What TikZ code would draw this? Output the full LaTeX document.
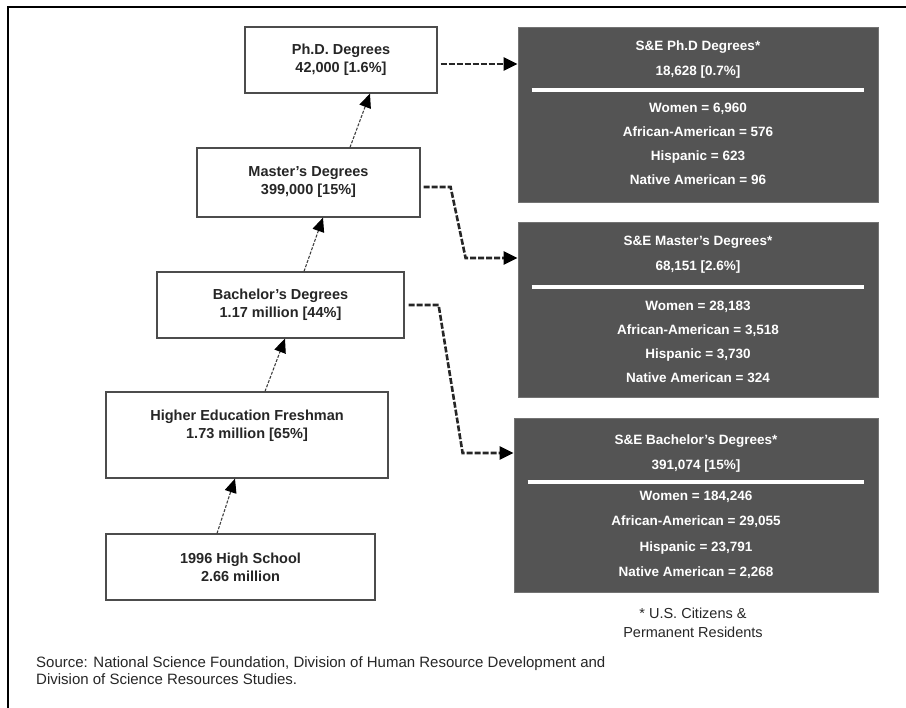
\documentclass[tikz,border=0pt]{standalone}
\usepackage{fontspec}
\setmainfont{Liberation Sans}
\usetikzlibrary{arrows.meta,calc,positioning}

\begin{document}
\begin{tikzpicture}[x=1pt,y=-1pt,
  lbox/.style={draw=black!70,line width=1.2pt,fill=white,align=center,inner sep=0pt,
    font=\bfseries\fontsize{14.5}{18}\selectfont,text=black!85},
  ltxt/.style={align=center,inner sep=0pt,font=\bfseries\fontsize{14.5}{18}\selectfont,text=black!85},
  sebox/.style={fill=black!67,draw=black!55,line width=0.8pt,inner sep=0pt},
  setxt/.style={align=center,inner sep=0pt,text=white,font=\bfseries\fontsize{13.5}{24}\selectfont},
  sehead/.style={setxt,font=\bfseries\fontsize{13.5}{25}\selectfont},
  wline/.style={draw=white,line width=4pt},
  uparrow/.style={draw=black!75,line width=1.1pt,dash pattern=on 3pt off 1.5pt,
    -{Triangle[length=14pt,width=12pt,color=black]}},
  sidearrow/.style={draw=black!85,line width=2.6pt,dash pattern=on 6pt off 2pt,
    -{Triangle[length=14pt,width=13pt,color=black]}},
  note/.style={inner sep=0pt,font=\fontsize{15}{17}\selectfont,text=black!85}]
 \useasboundingbox (0,0) rectangle (906,708);
 % frame
 \draw[line width=2pt] (8,708) -- (8,7) -- (906,7);

 % pipeline
 \node[lbox,minimum width=192,minimum height=66] (phd) at (341,60) {Ph.D. Degrees\\42,000 [1.6\%]};
 \node[lbox,minimum width=223,minimum height=69] (ms) at (308.5,182.5) {Master's Degrees\\399,000 [15\%]};
 \node[lbox,minimum width=247,minimum height=66] (ba) at (280.5,305) {Bachelor's Degrees\\1.17 million [44\%]};
 \node[lbox,minimum width=282,minimum height=86] (fr) at (247,435) {};
 \node[ltxt] (frt) at (247,426) {Higher Education Freshman\\1.73 million [65\%]};
 \node[lbox,minimum width=269,minimum height=66] (hs) at (240.5,567) {1996 High School\\2.66 million};

 \draw[uparrow] ([xshift=-23.5pt]hs.north) -- ([xshift=-12pt]fr.south);
 \draw[uparrow] ([xshift=18pt]fr.north) -- ([xshift=4.5pt]ba.south);
 \draw[uparrow] ([xshift=23.5pt]ba.north) -- ([xshift=14.5pt]ms.south);
 \draw[uparrow] ([xshift=41.5pt]ms.north) -- ([xshift=29pt]phd.south);

 % S&E boxes
 \node[sebox,minimum width=360,minimum height=175] (phdse) at (698,114.5) {};
 \node[sehead] (phdseh) at ($(phdse.north)+(0,33)$) {S\&E Ph.D Degrees*\\18,628 [0.7\%]};
 \draw[wline] ([xshift=14pt,yshift=-63pt]phdse.north west) -- ([xshift=-14pt,yshift=-63pt]phdse.north east);
 \node[setxt] (phdsel) at ($(phdse.north)+(0,117)$) {Women = 6,960\\African-American = 576\\Hispanic = 623\\Native American = 96};

 \node[sebox,minimum width=360,minimum height=175] (msse) at (698,309.5) {};
 \node[sehead] (msseh) at ($(msse.north)+(0,33)$) {S\&E Master's Degrees*\\68,151 [2.6\%]};
 \draw[wline] ([xshift=14pt,yshift=-65pt]msse.north west) -- ([xshift=-14pt,yshift=-65pt]msse.north east);
 \node[setxt] (mssel) at ($(msse.north)+(0,120)$) {Women = 28,183\\African-American = 3,518\\Hispanic = 3,730\\Native American = 324};

 \node[sebox,minimum width=364,minimum height=174] (base) at (696,505) {};
 \node[sehead] (baseh) at ($(base.north)+(0,36)$) {S\&E Bachelor's Degrees*\\391,074 [15\%]};
 \draw[wline] ([xshift=14pt,yshift=-64pt]base.north west) -- ([xshift=-14pt,yshift=-64pt]base.north east);
 \node[setxt,font=\bfseries\fontsize{13.5}{25.5}\selectfont] (basel) at ($(base.north)+(0,117)$) {Women = 184,246\\African-American = 29,055\\Hispanic = 23,791\\Native American = 2,268};

 \draw[sidearrow] ([xshift=3pt,yshift=-4pt]phd.east) -- ([yshift=50.5pt]phdse.west);
 \draw[sidearrow] ([xshift=3pt,yshift=-4.5pt]ms.east) -- ++(27,0) -- ++(15,71) -- ([yshift=51.5pt]msse.west);
 \draw[sidearrow] ([xshift=4pt]ba.east) -- ++(30,0) -- ++(24,148) -- ([yshift=52pt]base.west);

 % notes
 \node[note,align=center,font=\fontsize{14.5}{19}\selectfont] (cit) at (693,622.5) {* U.S. Citizens \&\\Permanent Residents};
 \node[note,align=left,anchor=west] (src) at (36,670.5) {Source: National Science Foundation, Division of Human Resource Development and\\Division of Science Resources Studies.};
\end{tikzpicture}
\end{document}
